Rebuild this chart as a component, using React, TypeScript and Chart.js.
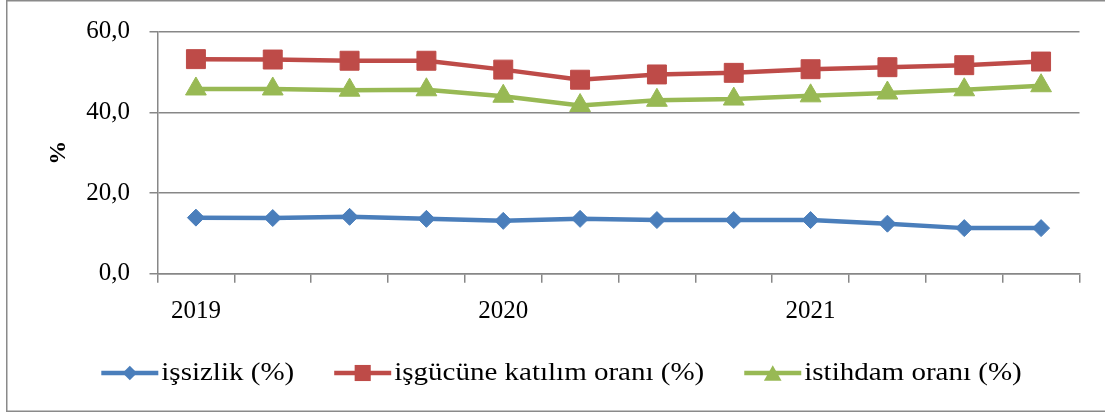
import React, { useEffect, useRef } from 'react';
import { Chart, registerables } from 'chart.js';

Chart.register(...registerables);

// ---- data ----
const categories = [
  '2019-Q1', '2019-Q2', '2019-Q3', '2019-Q4',
  '2020-Q1', '2020-Q2', '2020-Q3', '2020-Q4',
  '2021-Q1', '2021-Q2', '2021-Q3', '2021-Q4',
];
const xTickLabels = ['2019', '', '', '', '2020', '', '', '', '2021', '', '', ''];
const seriesNames = ['işsizlik (%)', 'işgücüne katılım oranı (%)', 'istihdam oranı (%)'];
const unemployment = [13.9, 13.8, 14.1, 13.6, 13.1, 13.6, 13.3, 13.3, 13.3, 12.4, 11.3, 11.3];
const participation = [53.2, 53.1, 52.8, 52.8, 50.6, 48.1, 49.4, 49.8, 50.7, 51.2, 51.7, 52.6];
const employment = [45.8, 45.8, 45.5, 45.6, 44.0, 41.7, 43.0, 43.3, 44.1, 44.8, 45.6, 46.6];
const yTicks = [0, 20, 40, 60];
const yTitle = '%';

const COLORS = ['#4A7EBB', '#BE4B48', '#98B954'];
const STYLES = ['rectRot', 'rect', 'triangle'];
const RADII = [8.5, 13.4, 12];
const GRID = '#878787';
const FONT = '"Liberation Serif", "Times New Roman", serif';

function drawMarker(ctx: CanvasRenderingContext2D, style: string, x: number, y: number, r: number, color: string) {
  ctx.save();
  ctx.fillStyle = color;
  ctx.beginPath();
  if (style === 'rectRot') {
    ctx.moveTo(x, y - r);
    ctx.lineTo(x + r, y);
    ctx.lineTo(x, y + r);
    ctx.lineTo(x - r, y);
  } else if (style === 'rect') {
    const s = r * Math.SQRT1_2;
    ctx.rect(x - s, y - s, 2 * s, 2 * s);
  } else {
    const w = r * Math.sin(Math.PI / 3);
    ctx.moveTo(x, y - r * 0.75);
    ctx.lineTo(x + w, y + r * 0.75);
    ctx.lineTo(x - w, y + r * 0.75);
  }
  ctx.closePath();
  ctx.fill();
  ctx.restore();
}

const customPlugin = {
  id: 'customDecor',
  afterDraw(chart: any) {
    const ctx: CanvasRenderingContext2D = chart.ctx;
    // outer frame
    ctx.save();
    ctx.strokeStyle = '#8a8a8a';
    ctx.lineWidth = 1.5;
    ctx.beginPath();
    ctx.moveTo(1106, 0.75);
    ctx.lineTo(6.75, 0.75);
    ctx.lineTo(6.75, 411.25);
    ctx.lineTo(1106, 411.25);
    ctx.stroke();
    ctx.restore();

    // legend
    const fontSize = 25;
    const stretch = 1.16;
    const symW = 57;
    const symGap = 3;
    const itemGap = 40;
    const legendY = 373;
    ctx.save();
    ctx.font = `${fontSize}px ${FONT}`;
    const widths = seriesNames.map((n) => ctx.measureText(n).width * stretch);
    const total = widths.reduce((a, w) => a + symW + symGap + w, 0) + itemGap * (seriesNames.length - 1);
    let x = 561.5 - total / 2;
    seriesNames.forEach((name, i) => {
      ctx.strokeStyle = COLORS[i];
      ctx.lineWidth = 4.5;
      ctx.beginPath();
      ctx.moveTo(x, legendY);
      ctx.lineTo(x + symW, legendY);
      ctx.stroke();
      drawMarker(ctx, STYLES[i], x + symW / 2, legendY, RADII[i] * 0.85, COLORS[i]);
      const tx = x + symW + symGap;
      ctx.save();
      ctx.translate(tx, legendY);
      ctx.scale(stretch, 1);
      ctx.fillStyle = '#000';
      ctx.textBaseline = 'middle';
      ctx.textAlign = 'left';
      ctx.fillText(name, 0, 0);
      ctx.restore();
      x = tx + widths[i] + itemGap;
    });
    ctx.restore();
  },
};

export default function App() {
  const canvasRef = useRef<HTMLCanvasElement | null>(null);

  useEffect(() => {
    if (!canvasRef.current) return;
    const series = [unemployment, participation, employment];
    const chart = new Chart(canvasRef.current, {
      type: 'line',
      data: {
        labels: categories,
        datasets: series.map((d, i) => ({
          label: seriesNames[i],
          data: d,
          borderColor: COLORS[i],
          backgroundColor: COLORS[i],
          pointBackgroundColor: COLORS[i],
          pointBorderColor: COLORS[i],
          pointBorderWidth: 1,
          borderWidth: 4.5,
          pointStyle: STYLES[i] as any,
          pointRadius: RADII[i],
          tension: 0,
          fill: false,
        })),
      },
      options: {
        responsive: false,
        animation: false,
        devicePixelRatio: 1,
        layout: { padding: { left: 0, right: 25.5, top: 31.7, bottom: 91.3 } },
        plugins: { legend: { display: false }, tooltip: { enabled: false } },
        scales: {
          x: {
            offset: true,
            grid: { offset: true, drawOnChartArea: false, tickLength: 9, color: GRID, lineWidth: 1.5 },
            border: { color: GRID, width: 1.5 },
            ticks: {
              autoSkip: false,
              maxRotation: 0,
              padding: 14,
              color: '#000',
              font: { family: FONT, size: 25 },
              callback: (_v: any, i: number) => xTickLabels[i],
            },
            afterFit: (s: any) => { s.height = 50; s.paddingLeft = 0; s.paddingRight = 0; },
          },
          y: {
            min: yTicks[0],
            max: yTicks[yTicks.length - 1],
            afterBuildTicks: (s: any) => { s.ticks = yTicks.map((v) => ({ value: v })); },
            ticks: {
              padding: 19.5,
              color: '#000',
              font: { family: FONT, size: 25 },
              callback: (v: any) => Number(v).toFixed(1).replace('.', ','),
            },
            grid: { color: GRID, lineWidth: 1.5, tickLength: 8 },
            border: { color: GRID, width: 1.5 },
            title: {
              display: true,
              text: yTitle,
              color: '#000',
              font: { family: FONT, size: 24, weight: 'bold' },
              padding: { top: 44.6, bottom: 0 },
            },
            afterFit: (s: any) => { s.width = 157.5; s.paddingTop = 0; s.paddingBottom = 0; },
          },
        },
      },
      plugins: [customPlugin],
    });
    return () => chart.destroy();
  }, []);

  return (
    <div style={{ position: 'absolute', left: 0, top: 0, width: 1105, height: 415, background: '#fff' }}>
      <canvas ref={canvasRef} width={1105} height={415} style={{ display: 'block' }} />
    </div>
  );
}
